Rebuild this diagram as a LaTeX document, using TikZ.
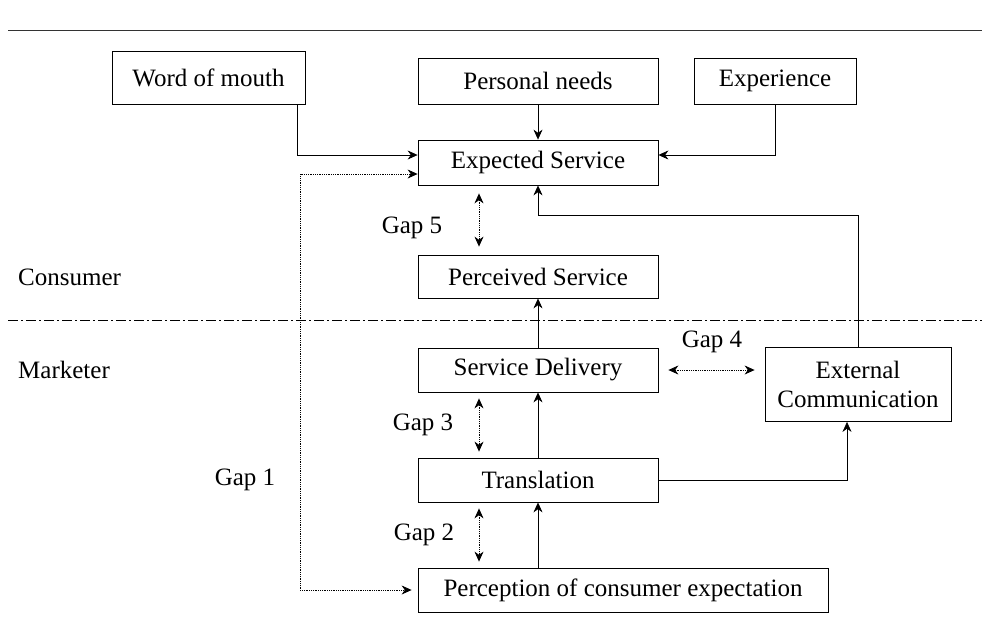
\documentclass[tikz,border=0pt]{standalone}
\usepackage{fontspec}
\setmainfont{Liberation Serif}
\usetikzlibrary{arrows.meta}
\begin{document}
\begin{tikzpicture}[x=1pt,y=-1pt,
  txt/.style={font=\fontsize{25}{29}\selectfont},
  box/.style={draw,line width=0.8pt,inner sep=0pt,align=center,txt},
  lbl/.style={inner sep=0pt,txt},
  tip/.tip={Stealth[length=10pt,width=9pt]},
  arr/.style={-tip,line width=0.7pt},
  darr/.style={tip-tip,densely dotted,line width=0.8pt}]
\useasboundingbox (0,0) rectangle (982,625);
% separators
\draw[line width=0.9pt,black!80] (8,30) -- (982,30);
\draw[line width=0.7pt,dash pattern=on 10pt off 3pt on 2pt off 3pt] (8,320) -- (982,320);
% boxes
\node[box,minimum width=193,minimum height=53] (wom) at (208.5,77.5) {Word of mouth};
\node[box,minimum width=240,minimum height=46] (pn) at (538,81) {Personal needs};
\node[box,minimum width=162,minimum height=46] (expn) at (775,81) {Experience};
\node[box,minimum width=240,minimum height=45] (exs) at (538,162.5) {Expected Service};
\node[box,minimum width=240,minimum height=43] (pcs) at (538,276.5) {Perceived Service};
\node[box,minimum width=240,minimum height=44] (sd) at (538,370) {Service Delivery};
\node[box,minimum width=186,minimum height=74] (ec) at (858,384.5) {External\\Communication};
\node[box,minimum width=240,minimum height=44] (tr) at (538,480) {Translation};
\node[box,minimum width=410,minimum height=44] (pce) at (623,590) {Perception of consumer expectation};
% labels
\node[lbl] (g5l) at (412,228) {Gap 5};
\node[lbl] (g4l) at (712,342) {Gap 4};
\node[lbl] (g3l) at (423,425) {Gap 3};
\node[lbl] (g2l) at (424,535) {Gap 2};
\node[lbl] (g1l) at (245,480) {Gap 1};
\node[lbl,anchor=west] (cons) at (18,277) {Consumer};
\node[lbl,anchor=west] (mark) at (18,370) {Marketer};
% helper coordinates
\coordinate (w1) at (297,155);
\coordinate (g1a) at (300,174);
\coordinate (gx) at (479,0);
\coordinate (e1) at (858,215);
\coordinate (e2) at (847,0);
% connectors
\draw[arr] (wom.south -| w1) |- (exs.west |- w1);
\draw[arr] (pn) -- (exs);
\draw[arr] (expn.south) |- (exs.east |- w1);
\draw[darr,shorten >=6pt] (exs.west |- g1a) -- (g1a) -- (g1a |- pce.west) -- (pce.west);
\draw[darr,shorten <=8pt,shorten >=8pt] (exs.south -| gx) -- (pcs.north -| gx);
\draw[arr] (sd) -- (pcs);
\draw[arr] (ec.north) -- (e1) -- (e1 -| exs.south) -- (exs.south);
\draw[darr,shorten <=10pt,shorten >=10pt] (sd.east) -- (sd.east -| ec.west);
\draw[darr,shorten <=6pt,shorten >=6pt] (sd.south -| gx) -- (tr.north -| gx);
\draw[arr] (tr) -- (sd);
\draw[arr] (tr.east) -| (ec.south -| e2);
\draw[darr,shorten <=6pt,shorten >=6pt] (tr.south -| gx) -- (pce.north -| gx);
\draw[arr] (pce.north -| tr.south) -- (tr.south);
\end{tikzpicture}
\end{document}
